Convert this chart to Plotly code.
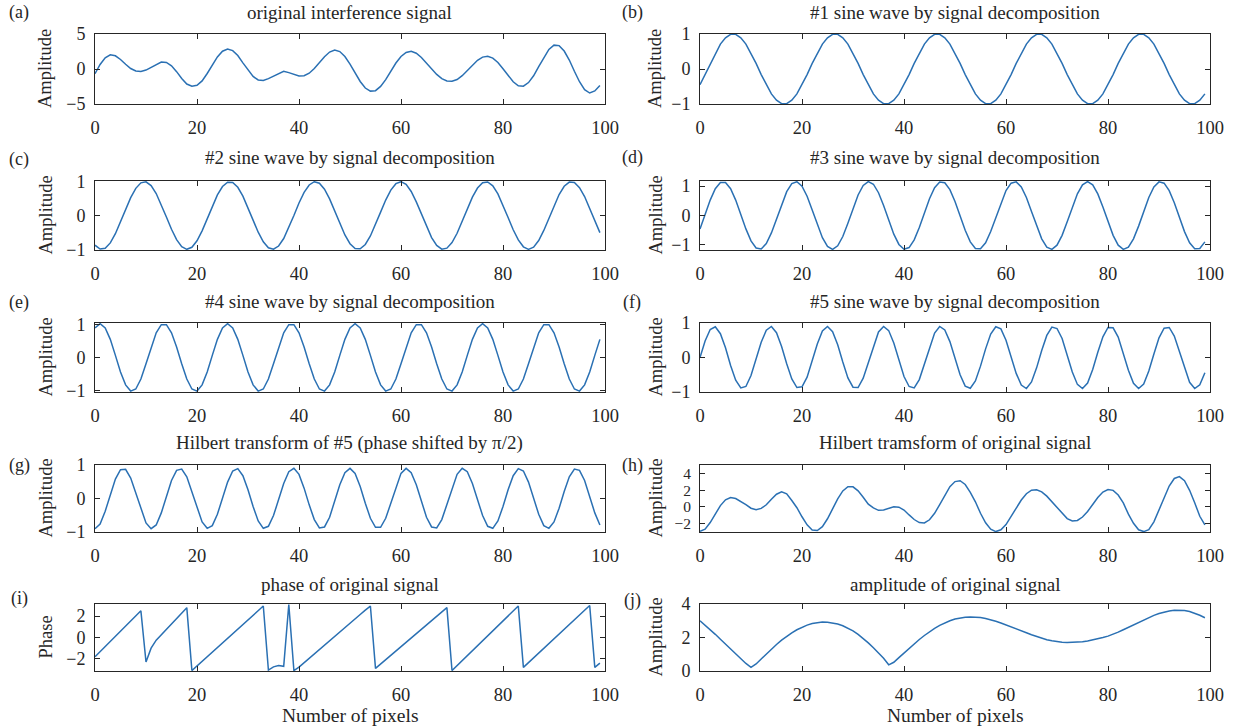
import plotly.graph_objects as go

# ---------------- data ----------------
pixels = list(range(100))

original_signal = [
    -0.68, 0.65, 1.61, 2.03, 1.89, 1.36, 0.68, 0.07, -0.29, -0.36,
    -0.15, 0.23, 0.70, 0.99, 0.94, 0.45, -0.38, -1.36, -2.15, -2.46,
    -2.33, -1.70, -0.64, 0.58, 1.72, 2.54, 2.86, 2.63, 1.92, 0.88,
    -0.19, -1.07, -1.57, -1.65, -1.38, -1.00, -0.66, -0.33, -0.52, -0.80,
    -1.01, -0.97, -0.60, 0.06, 0.91, 1.76, 2.42, 2.71, 2.49, 1.79,
    0.71, -0.56, -1.78, -2.72, -3.16, -3.10, -2.49, -1.52, -0.32, 0.85,
    1.78, 2.37, 2.52, 2.25, 1.65, 0.84, 0.00, -0.77, -1.37, -1.70,
    -1.75, -1.50, -0.96, -0.22, 0.56, 1.25, 1.70, 1.83, 1.56, 0.92,
    0.04, -0.95, -1.83, -2.41, -2.46, -1.94, -0.97, 0.34, 1.67, 2.80,
    3.41, 3.34, 2.57, 1.28, -0.32, -1.82, -2.95, -3.43, -3.14, -2.34]

sine_1 = [
    -0.45, -0.16, 0.16, 0.45, 0.71, 0.89, 0.99, 0.99, 0.89, 0.71,
    0.45, 0.16, -0.16, -0.45, -0.71, -0.89, -0.99, -0.99, -0.89, -0.71,
    -0.45, -0.16, 0.16, 0.45, 0.71, 0.89, 0.99, 0.99, 0.89, 0.71,
    0.45, 0.16, -0.16, -0.45, -0.71, -0.89, -0.99, -0.99, -0.89, -0.71,
    -0.45, -0.16, 0.16, 0.45, 0.71, 0.89, 0.99, 0.99, 0.89, 0.71,
    0.45, 0.16, -0.16, -0.45, -0.71, -0.89, -0.99, -0.99, -0.89, -0.71,
    -0.45, -0.16, 0.16, 0.45, 0.71, 0.89, 0.99, 0.99, 0.89, 0.71,
    0.45, 0.16, -0.16, -0.45, -0.71, -0.89, -0.99, -0.99, -0.89, -0.71,
    -0.45, -0.16, 0.16, 0.45, 0.71, 0.89, 0.99, 0.99, 0.89, 0.71,
    0.45, 0.16, -0.16, -0.45, -0.71, -0.89, -0.99, -0.99, -0.89, -0.71]

sine_2 = [
    -0.878, -0.992, -0.969, -0.810, -0.539, -0.193, 0.181, 0.528, 0.803, 0.965,
    0.994, 0.883, 0.650, 0.326, -0.043, -0.406, -0.713, -0.920, -1.000, -0.940,
    -0.749, -0.454, -0.096, 0.276, 0.609, 0.857, 0.986, 0.978, 0.834, 0.574,
    0.233, -0.139, -0.494, -0.778, -0.954, -0.997, -0.902, -0.681, -0.365, 0.002,
    0.368, 0.684, 0.903, 0.998, 0.953, 0.776, 0.491, 0.137, -0.235, -0.575,
    -0.835, -0.979, -0.986, -0.856, -0.606, -0.273, 0.099, 0.457, 0.751, 0.941,
    1.000, 0.919, 0.711, 0.403, 0.040, -0.329, -0.652, -0.885, -0.994, -0.965,
    -0.801, -0.526, -0.178, 0.195, 0.541, 0.812, 0.969, 0.992, 0.876, 0.639,
    0.312, -0.058, -0.420, -0.723, -0.926, -1.000, -0.935, -0.739, -0.441, -0.081,
    0.290, 0.621, 0.865, 0.989, 0.975, 0.825, 0.561, 0.218, -0.155, -0.506]

sine_3 = [
    -0.454, 0.038, 0.523, 0.910, 1.122, 1.122, 0.910, 0.523, 0.038, -0.454,
    -0.861, -1.104, -1.136, -0.953, -0.590, -0.114, 0.384, 0.808, 1.080, 1.145,
    0.994, 0.653, 0.189, -0.312, -0.753, -1.051, -1.150, -1.029, -0.714, -0.263,
    0.238, 0.695, 1.018, 1.149, 1.061, 0.772, 0.336, -0.163, -0.633, -0.981,
    -1.143, -1.088, -0.827, -0.407, 0.089, 0.568, 0.940, 1.133, 1.110, 0.877,
    0.477, -0.013, -0.500, -0.894, -1.117, -1.127, -0.925, -0.545, -0.063, 0.431,
    0.844, 1.096, 1.140, 0.967, 0.611, 0.138, -0.360, -0.791, -1.071, -1.148,
    -1.006, -0.674, -0.214, 0.288, 0.734, 1.041, 1.150, 1.041, 0.734, 0.288,
    -0.214, -0.674, -1.006, -1.148, -1.071, -0.790, -0.360, 0.139, 0.611, 0.967,
    1.140, 1.096, 0.844, 0.431, -0.063, -0.546, -0.925, -1.128, -1.117, -0.894]

sine_4 = [
    0.902, 1.030, 0.902, 0.552, 0.065, -0.439, -0.833, -1.022, -0.958, -0.656,
    -0.193, 0.318, 0.751, 0.998, 0.998, 0.751, 0.318, -0.193, -0.656, -0.958,
    -1.022, -0.833, -0.439, 0.065, 0.552, 0.902, 1.030, 0.902, 0.552, 0.065,
    -0.439, -0.833, -1.022, -0.958, -0.656, -0.193, 0.318, 0.751, 0.998, 0.998,
    0.751, 0.318, -0.193, -0.656, -0.958, -1.022, -0.833, -0.439, 0.065, 0.552,
    0.902, 1.030, 0.902, 0.552, 0.065, -0.439, -0.833, -1.022, -0.958, -0.656,
    -0.193, 0.318, 0.751, 0.998, 0.998, 0.751, 0.318, -0.193, -0.656, -0.958,
    -1.022, -0.833, -0.439, 0.065, 0.552, 0.902, 1.030, 0.902, 0.552, 0.065,
    -0.439, -0.833, -1.022, -0.958, -0.656, -0.193, 0.318, 0.751, 0.998, 0.998,
    0.751, 0.318, -0.193, -0.656, -0.958, -1.022, -0.833, -0.439, 0.065, 0.552]

sine_5 = [
    0.00, 0.48, 0.81, 0.89, 0.69, 0.28, -0.23, -0.66, -0.88, -0.84,
    -0.52, -0.05, 0.44, 0.79, 0.90, 0.72, 0.32, -0.18, -0.62, -0.87,
    -0.85, -0.57, -0.10, 0.39, 0.77, 0.90, 0.75, 0.37, -0.13, -0.59,
    -0.86, -0.87, -0.60, -0.15, 0.35, 0.74, 0.90, 0.78, 0.42, -0.08,
    -0.55, -0.84, -0.88, -0.64, -0.20, 0.30, 0.71, 0.90, 0.80, 0.46,
    -0.03, -0.50, -0.83, -0.89, -0.68, -0.25, 0.25, 0.68, 0.89, 0.83,
    0.50, 0.03, -0.46, -0.80, -0.90, -0.71, -0.30, 0.20, 0.64, 0.88,
    0.84, 0.55, 0.08, -0.42, -0.78, -0.90, -0.74, -0.35, 0.15, 0.60,
    0.87, 0.86, 0.59, 0.13, -0.37, -0.75, -0.90, -0.77, -0.39, 0.10,
    0.57, 0.85, 0.87, 0.62, 0.18, -0.32, -0.72, -0.90, -0.79, -0.44]

hilbert_5 = [
    -0.90, -0.76, -0.38, 0.11, 0.58, 0.86, 0.87, 0.61, 0.16, -0.34,
    -0.73, -0.90, -0.79, -0.43, 0.06, 0.54, 0.84, 0.88, 0.65, 0.21,
    -0.29, -0.70, -0.89, -0.81, -0.47, 0.01, 0.49, 0.82, 0.89, 0.68,
    0.26, -0.24, -0.67, -0.89, -0.83, -0.51, -0.04, 0.45, 0.80, 0.90,
    0.72, 0.31, -0.19, -0.63, -0.88, -0.85, -0.56, -0.09, 0.41, 0.77,
    0.90, 0.75, 0.36, -0.14, -0.59, -0.86, -0.86, -0.59, -0.14, 0.36,
    0.75, 0.90, 0.77, 0.41, -0.09, -0.56, -0.85, -0.88, -0.63, -0.19,
    0.31, 0.72, 0.90, 0.80, 0.45, -0.04, -0.51, -0.83, -0.89, -0.67,
    -0.24, 0.26, 0.68, 0.89, 0.82, 0.49, 0.01, -0.47, -0.81, -0.89,
    -0.70, -0.29, 0.21, 0.65, 0.88, 0.84, 0.54, 0.06, -0.43, -0.79]

hilbert_original = [
    -2.92, -2.66, -1.87, -0.83, 0.15, 0.84, 1.11, 1.00, 0.66, 0.27,
    -0.16, -0.35, -0.18, 0.25, 0.91, 1.51, 1.80, 1.56, 0.76, -0.10,
    -1.18, -2.15, -2.76, -2.83, -2.36, -1.42, -0.23, 0.96, 1.90, 2.41,
    2.39, 1.91, 1.15, 0.32, -0.13, -0.41, -0.38, -0.16, 0.02, -0.03,
    -0.38, -0.96, -1.51, -1.88, -1.92, -1.54, -0.77, 0.27, 1.43, 2.41,
    3.02, 3.12, 2.67, 1.74, 0.61, -0.76, -1.90, -2.66, -2.95, -2.74,
    -2.11, -1.17, -0.13, 0.82, 1.57, 1.99, 2.05, 1.79, 1.28, 0.60,
    -0.07, -0.84, -1.40, -1.69, -1.62, -1.21, -0.55, 0.29, 1.12, 1.77,
    2.08, 1.97, 1.42, 0.47, -0.87, -1.96, -2.74, -2.95, -2.72, -1.79,
    -0.41, 1.11, 2.49, 3.39, 3.62, 3.12, 1.98, 0.49, -1.12, -2.15]

phase_original = [
    -1.80, -1.33, -0.86, -0.39, 0.08, 0.55, 1.02, 1.50, 1.98, 2.50,
    -2.30, -1.00, -0.25, 0.25, 0.77, 1.28, 1.78, 2.29, 2.80, -3.10,
    -2.67, -2.24, -1.80, -1.37, -0.94, -0.51, -0.08, 0.35, 0.78, 1.22,
    1.65, 2.08, 2.51, 2.95, -3.05, -2.75, -2.62, -2.70, 3.10, -3.10,
    -2.78, -2.36, -1.95, -1.54, -1.13, -0.72, -0.31, 0.10, 0.52, 0.93,
    1.34, 1.75, 2.16, 2.57, 2.95, -2.90, -2.49, -2.09, -1.68, -1.27,
    -0.87, -0.46, -0.05, 0.35, 0.76, 1.17, 1.57, 1.98, 2.39, 2.80,
    -3.10, -2.63, -2.17, -1.70, -1.24, -0.77, -0.31, 0.16, 0.62, 1.09,
    1.55, 2.02, 2.48, 2.95, -2.80, -2.35, -1.91, -1.46, -1.02, -0.57,
    -0.12, 0.32, 0.77, 1.21, 1.66, 2.10, 2.55, 3.00, -2.80, -2.40]

amplitude_original = [
    3.00, 2.74, 2.47, 2.19, 1.90, 1.60, 1.30, 1.00, 0.72, 0.45,
    0.22, 0.42, 0.72, 1.02, 1.31, 1.58, 1.84, 2.07, 2.28, 2.46,
    2.61, 2.74, 2.83, 2.89, 2.92, 2.91, 2.87, 2.80, 2.70, 2.57,
    2.40, 2.19, 1.95, 1.68, 1.39, 1.08, 0.76, 0.37, 0.52, 0.80,
    1.08, 1.36, 1.63, 1.88, 2.12, 2.34, 2.54, 2.72, 2.87, 3.00,
    3.10, 3.17, 3.21, 3.23, 3.22, 3.19, 3.13, 3.06, 2.97, 2.87,
    2.76, 2.64, 2.52, 2.40, 2.28, 2.16, 2.05, 1.95, 1.87, 1.80,
    1.75, 1.72, 1.70, 1.70, 1.71, 1.74, 1.79, 1.85, 1.92, 2.00,
    2.08, 2.19, 2.32, 2.46, 2.61, 2.76, 2.91, 3.05, 3.19, 3.32,
    3.43, 3.52, 3.58, 3.62, 3.63, 3.61, 3.55, 3.46, 3.33, 3.18]

panel_letters = ["(a)", "(b)", "(c)", "(d)", "(e)", "(f)", "(g)", "(h)", "(i)", "(j)"]
panel_titles = [
    "original interference signal",
    "#1 sine wave by signal decomposition",
    "#2 sine wave by signal decomposition",
    "#3 sine wave by signal decomposition",
    "#4 sine wave by signal decomposition",
    "#5 sine wave by signal decomposition",
    "Hilbert transform of #5 (phase shifted by \u03c0/2)",
    "Hilbert tramsform of original signal",
    "phase of original signal",
    "amplitude of original signal",
]
y_labels = ["Amplitude"] * 8 + ["Phase", "Amplitude"]
series = [original_signal, sine_1, sine_2, sine_3, sine_4, sine_5,
          hilbert_5, hilbert_original, phase_original, amplitude_original]
y_ranges = [[-5, 5], [-1, 1], [-1.02, 1.02], [-1.17, 1.17], [-1.05, 1.05],
            [-1, 1], [-1, 1], [-3, 5], [-3.1416, 3.1416], [0, 4]]
y_ticks = [[-5, 0, 5], [-1, 0, 1], [-1, 0, 1], [-1, 0, 1], [-1, 0, 1],
           [-1, 0, 1], [-1, 0, 1], [-2, 0, 2, 4], [-2, 0, 2], [0, 2, 4]]
x_ticks = [0, 20, 40, 60, 80, 100]
x_title = "Number of pixels"

# ---------------- layout geometry (window pixels) ----------------
W, H = 1242, 728
col_px = [(95, 605), (700, 1210)]
row_px = [(34, 104), (181, 250), (323, 392), (465, 532), (604, 671)]
title_y = [12, 157, 301, 443, 584]
letter_y = [[12, 12], [159, 157], [302, 302], [466, 466], [598, 600]]
letter_x = [19, 632]
ylabel_x = [45, 655]

FONT = "Liberation Serif"
TXT = "#262626"
LINE = "#2a70b3"

def px_x(p):
    return p / W

def px_y(p):
    return 1 - p / H

fig = go.Figure()
annotations = []
layout_axes = {}

for i in range(10):
    r, c = divmod(i, 2)
    n = i + 1
    xa = "x" if n == 1 else f"x{n}"
    ya = "y" if n == 1 else f"y{n}"
    fig.add_trace(go.Scatter(x=pixels, y=series[i], mode="lines",
                             line=dict(color=LINE, width=1.5),
                             xaxis=xa, yaxis=ya, showlegend=False,
                             hoverinfo="skip"))
    x0, x1 = col_px[c]
    t0, t1 = row_px[r]
    xkey = "xaxis" if n == 1 else f"xaxis{n}"
    ykey = "yaxis" if n == 1 else f"yaxis{n}"
    axis_common = dict(showgrid=False, zeroline=False, showline=True,
                       linecolor=TXT, linewidth=1, mirror="ticks",
                       ticks="inside", tickcolor=TXT, ticklen=5,
                       automargin=False)
    ytick_size = 15.5 if i == 7 else 18
    layout_axes[xkey] = dict(domain=[px_x(x0), px_x(x1)], anchor=ya,
                             range=[0, 100], tickvals=x_ticks,
                             ticklabelstandoff=7,
                             tickfont=dict(family=FONT, size=18.5, color=TXT),
                             **axis_common)
    layout_axes[ykey] = dict(domain=[px_y(t1), px_y(t0)], anchor=xa,
                             range=y_ranges[i], tickvals=y_ticks[i],
                             ticklabelstandoff=5,
                             tickfont=dict(family=FONT, size=ytick_size, color=TXT),
                             **axis_common)
    annotations.append(dict(text=panel_titles[i], x=px_x((x0 + x1) / 2),
                            y=px_y(title_y[r]), xref="paper", yref="paper",
                            xanchor="center", yanchor="middle", showarrow=False,
                            font=dict(family=FONT, size=19, color=TXT)))
    annotations.append(dict(text=panel_letters[i], x=px_x(letter_x[c]),
                            y=px_y(letter_y[r][c]), xref="paper", yref="paper",
                            xanchor="center", yanchor="middle", showarrow=False,
                            font=dict(family=FONT, size=18, color=TXT)))
    annotations.append(dict(text=y_labels[i], x=px_x(ylabel_x[c]),
                            y=px_y((t0 + t1) / 2), xref="paper", yref="paper",
                            xanchor="center", yanchor="middle", showarrow=False,
                            textangle=-90,
                            font=dict(family=FONT, size=18.5, color=TXT)))
    if r == 4:
        annotations.append(dict(text=x_title, x=px_x((x0 + x1) / 2),
                                y=px_y(715), xref="paper", yref="paper",
                                xanchor="center", yanchor="middle", showarrow=False,
                                font=dict(family=FONT, size=19.5, color=TXT)))

fig.update_layout(width=W, height=H, margin=dict(l=0, r=0, t=0, b=0),
                  paper_bgcolor="white", plot_bgcolor="white",
                  font=dict(family=FONT, color=TXT),
                  annotations=annotations, **layout_axes)

# place the figure flush with the window (no default page margin), no modebar
fig.write_html("out.html",
               config={"displayModeBar": False},
               post_script="document.body.style.margin='0';"
                           "document.body.style.overflow='hidden';")
